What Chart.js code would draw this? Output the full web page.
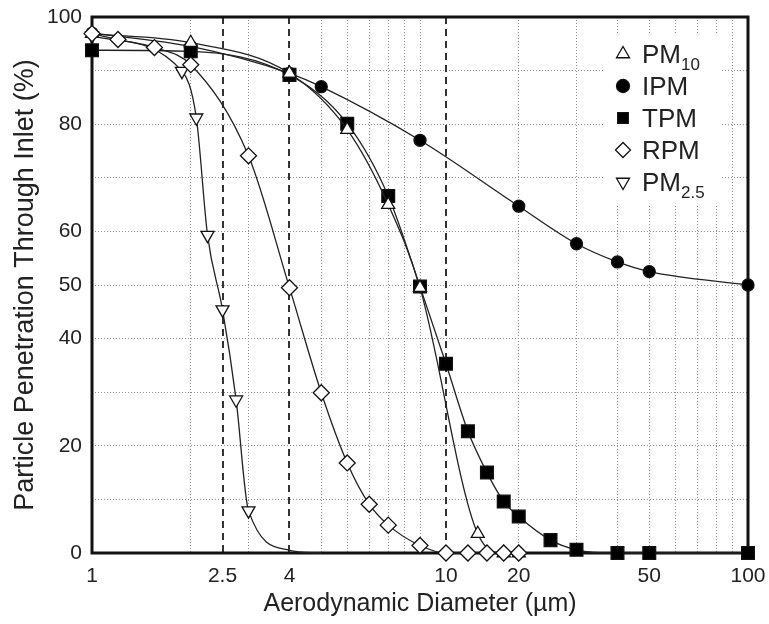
<!DOCTYPE html>
<html>
<head>
<meta charset="utf-8">
<script src="https://cdn.jsdelivr.net/npm/chart.js@4.4.1/dist/chart.umd.min.js"></script>
<style>
  html, body { margin: 0; padding: 0; background: #fff; }
  #wrap { width: 769px; height: 624px; }
</style>
</head>
<body>
<div id="wrap"><canvas id="penChart" width="769" height="624"></canvas></div>
<script>
// values (x = aerodynamic diameter in µm, y = penetration %)
const pm10X = [1, 2, 4, 6, 8, 10, 15, 18, 20];
const pm10Y = [96.9, 95.2, 89.5, 79, 65, 49.5, 3.6, 0, 0];

const ipmX = [1, 2, 4, 5, 10, 20, 30, 40, 50, 100];
const ipmY = [97, 94.5, 89.5, 87, 77, 64.7, 57.7, 54.3, 52.5, 50];

const tpmX = [1, 2, 4, 6, 8, 10, 12, 14, 16, 18, 20, 25, 30, 40, 50, 100];
const tpmY = [93.8, 93.6, 89.2, 80.1, 66.6, 49.7, 35.3, 22.7, 15, 9.6, 6.8, 2.4, 0.6, 0, 0, 0];

const rpmX = [1, 1.2, 1.55, 2, 3, 4, 5, 6, 7, 8, 10, 12, 14, 16, 18, 20];
const rpmY = [96.9, 95.8, 94.3, 91.1, 74.1, 49.5, 29.9, 16.8, 9.1, 5.2, 1.4, 0, 0, 0, 0, 0];

// the PM2.5 curve runs on past its last marker (3 µm) down to the axis
const pm25X = [1, 1.88, 2.08, 2.25, 2.5, 2.75, 3, 4, 5];
const pm25Y = [96.5, 89.9, 81.2, 59.3, 45.4, 28.6, 7.9, 0.5, 0];
const pm25LastMarkerX = 3;

// axis labels as printed on the figure (the "10" label sits under the right dashed line)
const xTickValues = [1, 2.5, 4, 12, 20, 50, 100];
const xTickLabels = ['1', '2.5', '4', '10', '20', '50', '100'];
const xGridValues = [2, 3, 4, 5, 6, 7, 8, 9, 10, 20, 30, 40, 50, 60, 70, 80, 90];
const cutLines = [2.5, 4, 12];
const yTickLabels = [0, 20, 40, 50, 60, 80, 100];

const FONT = "'Liberation Sans', Arial, sans-serif";
const INK = '#222';

function series(label, xs, ys, style, radius, fill, rotation, order) {
  return {
    label: label,
    data: xs.map((x, i) => ({ x: x, y: ys[i] })),
    pointStyle: style,
    pointRadius: radius,
    pointRotation: rotation,
    pointBackgroundColor: fill,
    pointBorderColor: '#111',
    pointBorderWidth: 1.3,
    borderColor: INK,
    borderWidth: 1.3,
    cubicInterpolationMode: 'monotone',
    clip: false,
    order: order
  };
}

const pm25 = series('PM2.5', pm25X, pm25Y, 'triangle', 7.5, '#fff', 180, 4);
pm25.pointRadius = c => (c.raw && c.raw.x > pm25LastMarkerX) ? 0 : 7.5;

// dashed cut-point lines + black frame
const guides = {
  id: 'guides',
  beforeDatasetsDraw(chart) {
    const { ctx, chartArea: a, scales: { x } } = chart;
    ctx.save();
    ctx.strokeStyle = '#333';
    ctx.lineWidth = 2;
    ctx.setLineDash([7, 5]);
    cutLines.forEach(v => {
      const px = Math.round(x.getPixelForValue(v));
      ctx.beginPath();
      ctx.moveTo(px, a.top);
      ctx.lineTo(px, a.bottom);
      ctx.stroke();
    });
    ctx.setLineDash([]);
    ctx.strokeStyle = '#111';
    ctx.lineWidth = 3;
    ctx.strokeRect(a.left, a.top, a.right - a.left, a.bottom - a.top);
    ctx.restore();
  }
};

// legend box with subscripts
const boxLegend = {
  id: 'boxLegend',
  afterDatasetsDraw(chart) {
    const ctx = chart.ctx;
    ctx.save();
    ctx.fillStyle = '#fff';
    ctx.fillRect(605, 33, 115, 172);
    chart.data.datasets.forEach((ds, i) => {
      const base = 63 + i * 32;
      ctx.fillStyle = ds.pointBackgroundColor;
      ctx.strokeStyle = '#111';
      ctx.lineWidth = 1.3;
      Chart.helpers.drawPoint(ctx, {
        pointStyle: ds.pointStyle,
        radius: ds.pointStyle === 'circle' ? 6.5 : 7.5,
        rotation: ds.pointRotation,
        borderWidth: 1.3
      }, 623, base - 9);
      const m = ds.label.match(/^(PM)([\d.]+)$/);
      const main = m ? m[1] : ds.label;
      const sub = m ? m[2] : '';
      ctx.fillStyle = INK;
      ctx.textBaseline = 'alphabetic';
      ctx.textAlign = 'left';
      ctx.font = '26px ' + FONT;
      ctx.fillText(main, 642, base);
      if (sub) {
        const w = ctx.measureText(main).width;
        ctx.font = '17px ' + FONT;
        ctx.fillText(sub, 642 + w, base + 7);
      }
    });
    ctx.restore();
  }
};

new Chart(document.getElementById('penChart'), {
  type: 'line',
  data: {
    datasets: [
      series('PM10', pm10X, pm10Y, 'triangle', 7.5, '#fff', 0, 1),
      series('IPM', ipmX, ipmY, 'circle', 6, '#000', 0, 3),
      series('TPM', tpmX, tpmY, 'rect', 9, '#000', 0, 2),
      series('RPM', rpmX, rpmY, 'rectRot', 8, '#fff', 0, 0),
      pm25
    ]
  },
  options: {
    responsive: false,
    devicePixelRatio: 1,
    animation: false,
    layout: { padding: { top: 17, right: 21, left: 0, bottom: 0 } },
    plugins: { legend: { display: false }, tooltip: { enabled: false } },
    scales: {
      x: {
        type: 'logarithmic',
        min: 1,
        max: 100,
        afterBuildTicks: s => {
          const all = [...new Set([1, ...xGridValues, ...xTickValues, 100])].sort((a, b) => a - b);
          s.ticks = all.map(v => ({ value: v }));
        },
        afterFit: s => { s.height = 71; s.paddingLeft = 0; s.paddingRight = 0; },
        ticks: {
          autoSkip: false,
          maxRotation: 0,
          padding: 11,
          color: INK,
          font: { family: FONT, size: 21 },
          callback: v => {
            const i = xTickValues.indexOf(v);
            return i < 0 ? '' : xTickLabels[i];
          }
        },
        grid: {
          drawTicks: false,
          lineWidth: 1,
          color: c => (c.tick && xGridValues.includes(c.tick.value) && !cutLines.includes(c.tick.value)) ? '#8c8c8c' : 'rgba(0,0,0,0)'
        },
        border: { display: false, dash: [1, 2] },
        title: {
          display: true,
          text: 'Aerodynamic Diameter (µm)',
          color: INK,
          font: { family: FONT, size: 25 },
          padding: { top: 0, bottom: 5 }
        }
      },
      y: {
        min: 0,
        max: 100,
        afterFit: s => { s.width = 92; s.paddingTop = 0; s.paddingBottom = 0; },
        ticks: {
          stepSize: 10,
          padding: 10,
          color: INK,
          font: { family: FONT, size: 21 },
          callback: v => yTickLabels.includes(v) ? String(v) : ''
        },
        grid: {
          drawTicks: false,
          lineWidth: 1,
          color: c => (c.tick && c.tick.value > 0 && c.tick.value < 100) ? '#8c8c8c' : 'rgba(0,0,0,0)'
        },
        border: { display: false, dash: [1, 2] },
        title: {
          display: true,
          text: 'Particle Penetration Through Inlet (%)',
          color: INK,
          font: { family: FONT, size: 27 },
          padding: { top: 9, bottom: 0 }
        }
      }
    }
  },
  plugins: [guides, boxLegend]
});
</script>
</body>
</html>
